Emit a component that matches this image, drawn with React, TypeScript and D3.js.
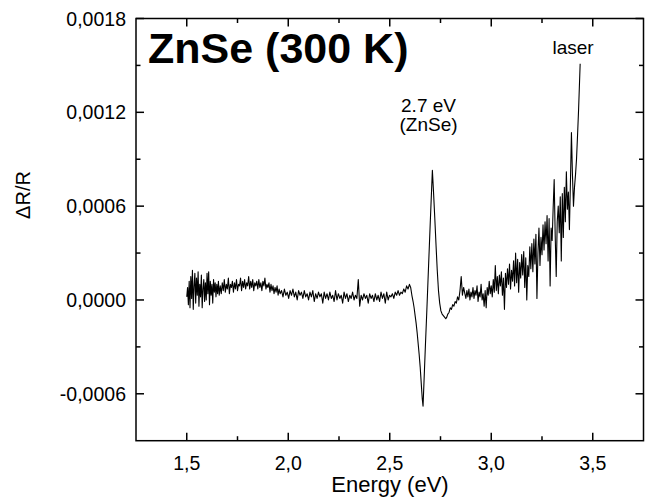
import React from "react";
import * as d3 from "d3";

// Spectrum: [energy (eV), ΔR/R in units of 1e-4]
const spectrum: [number, number][] = [
  [1.500, 0.2], [1.504, 0.8], [1.508, -0.3], [1.512, 1.2], [1.516, -0.5], [1.520, 1.5], [1.524, 0.1], [1.528, 1.9],
  [1.532, -0.6], [1.536, 0.9], [1.540, 1.7], [1.544, -0.2], [1.548, 1.4], [1.552, 0.3], [1.556, 1.8], [1.560, -0.4],
  [1.564, 1.0], [1.568, 0.2], [1.572, 1.6], [1.576, -0.5], [1.580, 0.7], [1.584, 1.3], [1.588, -0.1], [1.592, 1.1],
  [1.596, 0.0], [1.600, 1.7], [1.604, 0.4], [1.608, 1.8], [1.612, -0.3], [1.616, 1.2], [1.620, 0.3], [1.624, 1.0],
  [1.628, -0.2], [1.632, 1.3], [1.636, 0.5], [1.640, 1.1], [1.644, 0.2], [1.648, 1.0], [1.652, 0.4], [1.656, 1.2],
  [1.660, 0.3],
  [1.665, 0.9], [1.670, 0.4], [1.675, 1.1], [1.680, 0.6], [1.685, 1.3], [1.690, 0.5], [1.695, 1.0], [1.700, 0.7],
  [1.705, 1.4], [1.710, 0.4], [1.715, 1.0], [1.720, 0.8], [1.725, 1.2], [1.730, 0.5], [1.735, 1.1], [1.740, 0.7],
  [1.745, 1.3], [1.750, 0.6], [1.755, 1.0], [1.760, 0.9], [1.765, 1.4], [1.770, 0.6], [1.775, 1.2], [1.780, 0.8],
  [1.785, 1.3], [1.790, 0.7], [1.795, 1.1], [1.800, 0.9], [1.805, 1.5], [1.810, 0.7], [1.815, 1.2], [1.820, 0.8],
  [1.825, 1.3], [1.830, 0.6], [1.835, 1.1], [1.840, 0.9], [1.845, 1.2], [1.850, 0.7], [1.855, 1.3], [1.860, 0.8],
  [1.865, 1.1], [1.870, 0.6], [1.875, 1.2], [1.880, 0.9], [1.885, 1.4], [1.890, 0.7], [1.895, 1.0], [1.900, 0.8],
  [1.905, 1.1], [1.910, 0.5], [1.915, 1.0], [1.920, 0.6], [1.925, 0.9], [1.930, 0.4], [1.935, 0.8], [1.940, 0.5],
  [1.945, 0.9], [1.950, 0.3], [1.955, 0.7], [1.960, 0.4],
  [1.967, 0.6], [1.974, 0.2], [1.981, 0.7], [1.988, 0.3], [1.995, 0.5], [2.002, 0.1], [2.009, 0.6], [2.016, 0.3],
  [2.023, 0.7], [2.030, 0.2], [2.037, 0.5], [2.044, 0.0], [2.051, 0.6], [2.058, 0.3], [2.065, 0.5], [2.072, 0.1],
  [2.079, 0.6], [2.086, 0.2], [2.093, 0.4], [2.100, 0.0], [2.107, 0.5], [2.114, 0.2], [2.121, 0.6], [2.128, -0.1],
  [2.135, 0.4], [2.142, 0.1], [2.149, 0.5], [2.156, 0.2], [2.163, 0.4], [2.170, -0.2], [2.177, 0.5], [2.184, 0.1],
  [2.191, 0.4], [2.198, 0.0], [2.205, 0.5], [2.212, 0.1], [2.219, 0.3], [2.226, -0.1], [2.233, 0.6], [2.240, 0.0],
  [2.247, 0.4], [2.254, 0.1], [2.261, 0.3], [2.268, -0.2], [2.275, 0.5], [2.282, 0.1], [2.289, 0.4], [2.296, -0.1],
  [2.303, 0.3], [2.310, 0.1], [2.317, 0.5], [2.324, 0.0], [2.331, 0.3], [2.338, 0.1], [2.345, 1.3], [2.352, -0.4],
  [2.359, 0.3], [2.366, 0.0], [2.373, 0.4], [2.380, 0.1], [2.387, 0.3], [2.394, -0.2], [2.401, 0.4], [2.408, 0.1],
  [2.415, 0.3], [2.422, -0.1], [2.429, 0.4], [2.436, 0.0], [2.443, 0.3], [2.450, -0.1], [2.457, 0.5], [2.464, 0.1],
  [2.471, 0.4], [2.478, -0.2], [2.485, 0.5], [2.492, 0.0], [2.499, 0.3], [2.506, 0.2], [2.513, 0.4], [2.520, 0.1],
  [2.527, 0.5], [2.534, 0.3], [2.541, 0.6], [2.548, 0.3], [2.555, 0.5], [2.562, 0.4], [2.569, 0.7], [2.576, 0.5],
  [2.583, 0.9], [2.590, 0.7], [2.597, 1.0],
  [2.603, 0.8], [2.609, 0.3], [2.615, -0.1], [2.620, -0.5], [2.625, -1.0], [2.630, -1.5], [2.635, -2.1], [2.640, -2.8],
  [2.645, -3.5], [2.650, -4.3], [2.655, -5.3], [2.660, -6.3], [2.664, -6.8], [2.670, -4.8], [2.676, -2.8], [2.682, -0.9],
  [2.688, 1.1], [2.694, 3.1], [2.700, 5.1], [2.705, 6.7], [2.710, 8.3], [2.716, 6.8], [2.722, 5.2], [2.728, 3.5],
  [2.734, 1.9], [2.740, 0.6], [2.746, -0.2], [2.752, -0.7], [2.758, -0.9], [2.764, -1.0], [2.770, -1.1], [2.776, -1.2],
  [2.781, -1.1], [2.786, -0.9], [2.792, -0.8], [2.798, -0.5], [2.804, -0.6], [2.810, -0.3], [2.816, -0.4], [2.822, -0.1],
  [2.828, -0.2], [2.834, 0.2], [2.840, 0.0], [2.846, 0.6], [2.852, 1.5], [2.858, 0.3], [2.864, 0.8],
  [2.870, 0.4], [2.875, 0.1], [2.880, 0.6], [2.885, 0.2], [2.890, 0.7], [2.895, 0.0], [2.900, 0.5], [2.905, 0.2],
  [2.910, 0.8], [2.915, 0.1], [2.920, 0.6], [2.925, 0.3], [2.930, 0.9], [2.935, -0.1], [2.940, 0.5], [2.945, 0.2],
  [2.950, 1.0], [2.955, 0.0], [2.960, 0.4], [2.965, -0.4], [2.970, 0.6], [2.975, -0.5], [2.980, 0.8], [2.985, 0.3],
  [2.990, 1.2], [2.995, 0.4], [3.000, 0.9], [3.005, 0.2], [3.010, 1.3], [3.015, 0.5], [3.020, 2.2], [3.025, 0.6],
  [3.030, 1.5], [3.035, 0.4], [3.040, 1.6], [3.045, 0.9], [3.050, 1.8], [3.055, 0.3], [3.060, 1.4], [3.065, -0.6],
  [3.070, 1.7], [3.075, 0.8], [3.080, 2.0], [3.085, 1.0], [3.090, 2.3], [3.095, 0.7], [3.100, 1.9], [3.105, 1.2],
  [3.110, 2.5], [3.115, 0.9], [3.120, 3.0], [3.125, 1.1], [3.130, 2.6], [3.135, 0.5], [3.140, 2.4], [3.145, 1.4],
  [3.150, 2.9], [3.155, 1.6], [3.160, 3.1], [3.165, 0.8], [3.170, 2.7], [3.175, 0.0], [3.180, 2.2], [3.185, 1.5],
  [3.190, 3.4], [3.195, 2.0], [3.200, 3.6], [3.205, 1.8], [3.210, 3.9], [3.215, 2.3], [3.220, 4.2], [3.225, 0.1],
  [3.230, 3.0], [3.235, 4.6], [3.240, 2.2], [3.245, 4.0], [3.250, 2.9], [3.255, 4.8], [3.260, 3.2], [3.265, 5.0],
  [3.270, 3.6], [3.275, 5.4], [3.280, 2.5], [3.285, 5.2], [3.290, 0.9], [3.295, 4.6], [3.300, 3.8], [3.305, 5.9],
  [3.310, 7.7], [3.315, 4.1], [3.320, 1.5], [3.325, 5.0], [3.330, 6.0], [3.335, 4.3], [3.340, 6.6], [3.345, 2.5],
  [3.350, 6.8], [3.355, 4.0], [3.360, 7.2], [3.365, 5.0], [3.370, 8.2], [3.375, 5.8], [3.380, 6.9], [3.385, 4.5],
  [3.390, 7.5], [3.395, 10.7], [3.400, 8.0], [3.405, 6.0], [3.410, 7.2], [3.415, 8.0], [3.420, 9.0], [3.425, 10.5],
  [3.430, 12.1], [3.438, 15.1],
];
const valueUnit = 1e-4;

const xDomain: [number, number] = [1.25, 3.75];
const yDomain: [number, number] = [-0.0009, 0.0018];
const xMajorTicks = [1.5, 2.0, 2.5, 3.0, 3.5];
const xMinorTicks = [1.75, 2.25, 2.75, 3.25];
const yMajorTicks = [-0.0006, 0, 0.0006, 0.0012, 0.0018];
const yMinorTicks = [-0.0003, 0.0003, 0.0009, 0.0015];

const titleText = "ZnSe (300 K)";
const peakLabel = ["2.7 eV", "(ZnSe)"];
const laserLabel = "laser";
const xLabel = "Energy (eV)";
const yLabel = "ΔR/R";

const W = 645;
const H = 497;
const left = 136;
const right = 643.5;
const top = 18.5;
const bottom = 440.7;
const FONT = "'Liberation Sans', Arial, Helvetica, sans-serif";

export default function App() {
  const x = d3.scaleLinear().domain(xDomain).range([left, right]);
  const y = d3.scaleLinear().domain(yDomain).range([bottom, top]);
  const line = d3
    .line<[number, number]>()
    .x((d) => x(d[0]))
    .y((d) => y(d[1] * valueUnit));
  const fy = (v: number) => d3.format(".4f")(v).replace(".", ",").replace("−", "-");
  const fx = (v: number) => d3.format(".1f")(v).replace(".", ",");
  const major = 8;
  const minor = 4.5;
  const ax = { stroke: "#000", strokeWidth: 1.5 };

  return (
    <div style={{ position: "fixed", left: 0, top: 0, width: W, height: H, background: "#fff" }}>
      <svg width={W} height={H} style={{ display: "block" }} fontFamily={FONT}>
        <rect x={0} y={0} width={W} height={H} fill="#fff" />
        {/* data */}
        <path d={line(spectrum) || ""} fill="none" stroke="#000" strokeWidth={1.1} strokeLinejoin="round" />
        {/* frame */}
        <rect x={left} y={top} width={right - left} height={bottom - top} fill="none" {...ax} />
        {/* x ticks bottom and top */}
        {xMajorTicks.map((t) => (
          <g key={"xm" + t}>
            <line x1={x(t)} x2={x(t)} y1={bottom} y2={bottom - major} {...ax} />
            <line x1={x(t)} x2={x(t)} y1={top} y2={top + major} {...ax} />
            <text x={x(t)} y={470} textAnchor="middle" fontSize={19.5} fill="#000">
              {fx(t)}
            </text>
          </g>
        ))}
        {xMinorTicks.map((t) => (
          <g key={"xn" + t}>
            <line x1={x(t)} x2={x(t)} y1={bottom} y2={bottom - minor} {...ax} />
            <line x1={x(t)} x2={x(t)} y1={top} y2={top + minor} {...ax} />
          </g>
        ))}
        {/* y ticks left and right */}
        {yMajorTicks.map((t) => (
          <g key={"ym" + t}>
            <line x1={left} x2={left + major} y1={y(t)} y2={y(t)} {...ax} />
            <line x1={right} x2={right - major} y1={y(t)} y2={y(t)} {...ax} />
            <text x={126} y={y(t) + 7} textAnchor="end" fontSize={19.5} fill="#000">
              {fy(t)}
            </text>
          </g>
        ))}
        {yMinorTicks.map((t) => (
          <g key={"yn" + t}>
            <line x1={left} x2={left + minor} y1={y(t)} y2={y(t)} {...ax} />
            <line x1={right} x2={right - minor} y1={y(t)} y2={y(t)} {...ax} />
          </g>
        ))}
        {/* axis titles */}
        <text x={390} y={492} textAnchor="middle" fontSize={22} fill="#000">
          {xLabel}
        </text>
        <text
          transform={`translate(30,195) rotate(-90)`}
          textAnchor="middle"
          fontSize={20}
          fill="#000"
        >
          {yLabel}
        </text>
        {/* title and annotations */}
        <text x={148} y={63.3} fontSize={43} fontWeight="bold" fill="#000">
          {titleText}
        </text>
        <text x={428.5} y={111.5} textAnchor="middle" fontSize={19} fill="#000">
          {peakLabel[0]}
        </text>
        <text x={428.5} y={131} textAnchor="middle" fontSize={19} fill="#000">
          {peakLabel[1]}
        </text>
        <text x={573} y={54} textAnchor="middle" fontSize={19} fill="#000">
          {laserLabel}
        </text>
      </svg>
    </div>
  );
}
